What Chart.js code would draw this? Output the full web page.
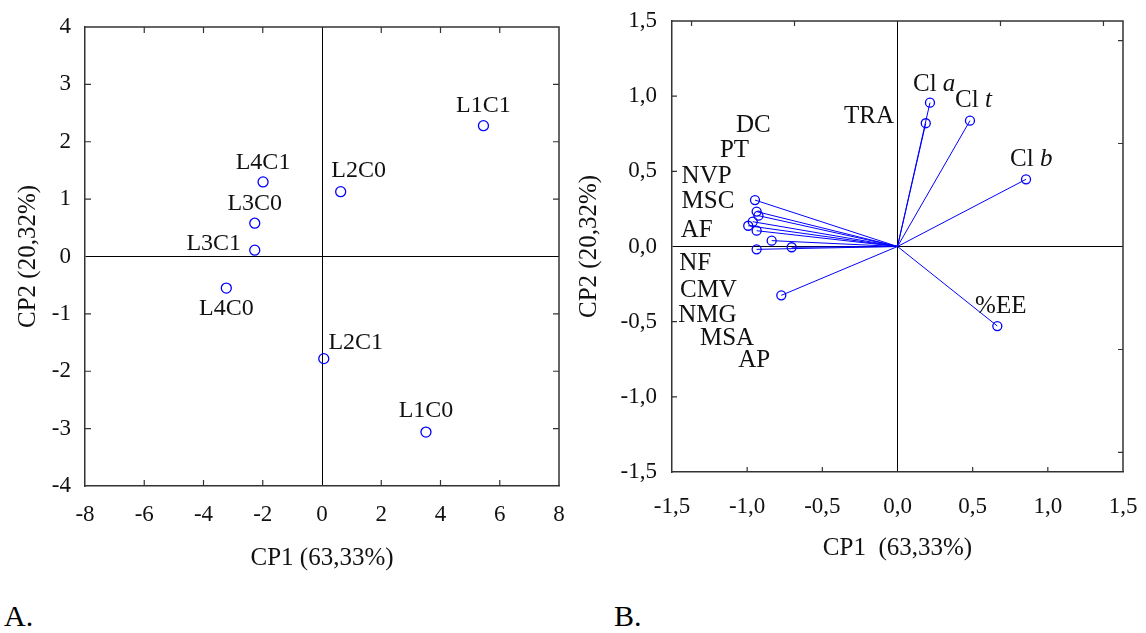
<!DOCTYPE html>
<html>
<head>
<meta charset="utf-8">
<script src="https://cdn.jsdelivr.net/npm/chart.js@4.4.1/dist/chart.umd.min.js"></script>
<style>
  body { margin: 0; background: #fff; width: 1146px; height: 633px; overflow: hidden; position: relative; font-family: 'Liberation Serif', serif; }
  #boxA { position: absolute; left: 0; top: 0; }
  #boxB { position: absolute; left: 566px; top: 0; }
  .panel { position: absolute; top: 601px; font-size: 30px; line-height: 1; color: #000; }
</style>
</head>
<body>
<canvas id="boxA" width="580" height="580"></canvas>
<canvas id="boxB" width="580" height="580"></canvas>
<div class="panel" style="left:4px">A.</div>
<div class="panel" style="left:614px">B.</div>
<script>
// ---------- PANEL A: scores ----------
const a_names = ['L1C1', 'L2C0', 'L4C1', 'L3C0', 'L3C1', 'L4C0', 'L2C1', 'L1C0'];
const a_cp1 = [5.45, 0.63, -1.99, -2.27, -2.27, -3.23, 0.06, 3.51];
const a_cp2 = [2.28, 1.13, 1.30, 0.58, 0.11, -0.55, -1.78, -3.06];
const a_ticks_x = [-6, -4, -2, 2, 4, 6];
const a_ticks_y = [-3, -2, -1, 1, 2, 3];

// ---------- PANEL B: loadings ----------
const b_names = ['Cl a', 'TRA', 'Cl t', 'Cl b', '%EE', 'DC', 'PT', 'NVP', 'MSC', 'AF', 'NF', 'CMV', 'NMG', 'MSA', 'AP'];
const b_cp1 = [0.216, 0.188, 0.482, 0.855, 0.664, -0.948, -0.937, -0.925, -0.963, -0.993, -0.937, -0.773, -0.837, -0.937, -0.704];
const b_cp2 = [0.957, 0.820, 0.837, 0.447, -0.529, 0.309, 0.232, 0.205, 0.165, 0.138, 0.105, -0.325, 0.039, -0.019, -0.005];
const b_ticks = [-1, -0.5, 0.5, 1];
const b_ticks_frame = [-1.37, -0.685, 0.685, 1.37];

// label placement (layout only)
const a_label_offset = [[0, -20], [18, -21], [0, -19], [0, -20], [-41, -6], [0, 21], [32, -16], [0, -21]];
const b_label_pos = {
  'Cl a': [0.103, 1.075], 'TRA': [-0.356, 0.868], 'Cl t': [0.383, 0.970], 'Cl b': [0.749, 0.576],
  '%EE': [0.516, -0.401], 'DC': [-1.075, 0.808], 'PT': [-1.181, 0.642], 'NVP': [-1.436, 0.469],
  'MSC': [-1.436, 0.298], 'AF': [-1.442, 0.110], 'NF': [-1.452, -0.112], 'CMV': [-1.447, -0.294],
  'NMG': [-1.458, -0.456], 'MSA': [-1.314, -0.611], 'AP': [-1.059, -0.755]
};

const FONT = "'Liberation Serif', 'Times New Roman', serif";
const BLUE = '#0000ff';

Chart.defaults.font.family = FONT;
Chart.defaults.font.size = 23;
Chart.defaults.color = '#111';

// frame (top/right) + inward tick marks
const frameTicks = {
  id: 'frameTicks',
  afterDatasetsDraw(chart, args, opts) {
    const { ctx, chartArea: a, scales: { x, y } } = chart;
    const L = opts.len;
    ctx.save();
    ctx.strokeStyle = '#333';
    ctx.lineWidth = 1.5;
    ctx.beginPath();
    ctx.moveTo(a.left, a.top);
    ctx.lineTo(a.right, a.top);
    ctx.lineTo(a.right, a.bottom);
    ctx.stroke();
    ctx.lineWidth = 1.2;
    ctx.beginPath();
    opts.bottom.forEach(v => { const p = x.getPixelForValue(v); ctx.moveTo(p, a.bottom); ctx.lineTo(p, a.bottom - L); });
    opts.top.forEach(v => { const p = x.getPixelForValue(v); ctx.moveTo(p, a.top); ctx.lineTo(p, a.top + L); });
    opts.left.forEach(v => { const p = y.getPixelForValue(v); ctx.moveTo(a.left, p); ctx.lineTo(a.left + L, p); });
    opts.right.forEach(v => { const p = y.getPixelForValue(v); ctx.moveTo(a.right, p); ctx.lineTo(a.right - L, p); });
    ctx.stroke();
    ctx.restore();
  }
};

// text labels
const textLabels = {
  id: 'textLabels',
  afterDatasetsDraw(chart, args, opts) {
    const { ctx, scales: { x, y } } = chart;
    ctx.save();
    ctx.fillStyle = '#111';
    ctx.textBaseline = 'middle';
    opts.items.forEach(it => {
      const px = x.getPixelForValue(it.x) + (it.dx || 0);
      const py = y.getPixelForValue(it.y) + (it.dy || 0);
      ctx.font = opts.size + 'px ' + FONT;
      if (it.italic) {
        ctx.textAlign = 'left';
        ctx.fillText(it.text, px, py);
        const w = ctx.measureText(it.text).width;
        ctx.font = 'italic ' + opts.size + 'px ' + FONT;
        ctx.fillText(it.italic, px + w, py);
      } else {
        ctx.textAlign = it.align || 'center';
        ctx.fillText(it.text, px, py);
      }
    });
    ctx.restore();
  }
};

function zeroLine(c) {
  return Math.abs(c.tick.value) < 1e-9 ? '#000' : 'rgba(0,0,0,0)';
}

// gap between axis and tick labels goes into an invisible tick mark,
// so it does not inflate the layout padding
function axis(min, max, step, fmt, title, gap, fitSize, horizontal) {
  return {
    type: 'linear',
    min: min,
    max: max,
    ticks: { stepSize: step, padding: 2, color: '#111', font: { family: FONT, size: 23, lineHeight: 1.2 }, callback: fmt },
    grid: { color: zeroLine, drawTicks: true, tickLength: gap - 2, tickColor: 'rgba(0,0,0,0)', lineWidth: 1 },
    border: { display: true, color: '#333', width: 1.5 },
    title: { display: true, text: title, color: '#111', font: { family: FONT, size: 25, lineHeight: 1.2 }, padding: { top: 4, bottom: 4 } },
    afterFit: s => { if (horizontal) s.height = fitSize; else s.width = fitSize; }
  };
}

const fmtInt = v => String(v);
const fmtDec = v => v.toFixed(1).replace('.', ',');

// ---------- CHART A ----------
new Chart(document.getElementById('boxA').getContext('2d'), {
  type: 'scatter',
  data: {
    datasets: [{
      data: a_cp1.map((v, i) => ({ x: v, y: a_cp2[i] })),
      pointRadius: 5,
      pointBorderWidth: 1.3,
      pointBorderColor: BLUE,
      pointBackgroundColor: 'rgba(255,255,255,0)'
    }]
  },
  options: {
    responsive: false,
    animation: false,
    layout: { padding: { left: 9, top: 27, right: 21, bottom: 3 } },
    scales: {
      x: axis(-8, 8, 2, fmtInt, 'CP1 (63,33%)', 15, 91, true),
      y: axis(-4, 4, 1, fmtInt, 'CP2 (20,32%)', 14, 76, false)
    },
    plugins: {
      legend: { display: false },
      tooltip: { enabled: false },
      frameTicks: { len: 6, bottom: a_ticks_x, top: a_ticks_x, left: a_ticks_y, right: a_ticks_y },
      textLabels: {
        size: 24,
        items: a_names.map((n, i) => ({ text: n, x: a_cp1[i], y: a_cp2[i], dx: a_label_offset[i][0], dy: a_label_offset[i][1] }))
      }
    }
  },
  plugins: [frameTicks, textLabels]
});

// ---------- CHART B ----------
const b_datasets = b_names.map((n, i) => ({
  label: n,
  data: [{ x: 0, y: 0 }, { x: b_cp1[i], y: b_cp2[i] }],
  showLine: true,
  borderColor: BLUE,
  borderWidth: 1,
  pointRadius: c => (c.dataIndex === 0 ? 0 : 4.5),
  pointBorderWidth: 1.3,
  pointBorderColor: BLUE,
  pointBackgroundColor: 'rgba(255,255,255,0)'
}));

const b_items = b_names.map(n => {
  const p = b_label_pos[n];
  if (n.startsWith('Cl ')) return { text: 'Cl ', italic: n.slice(3), x: p[0], y: p[1] };
  return { text: n, x: p[0], y: p[1], align: 'left' };
});

new Chart(document.getElementById('boxB').getContext('2d'), {
  type: 'scatter',
  data: { datasets: b_datasets },
  options: {
    responsive: false,
    animation: false,
    layout: { padding: { left: 4, top: 21, right: 23, bottom: 13 } },
    scales: {
      x: axis(-1.5, 1.5, 0.5, fmtDec, 'CP1  (63,33%)', 21, 95, true),
      y: axis(-1.5, 1.5, 0.5, fmtDec, 'CP2 (20,32%)', 15, 102, false)
    },
    plugins: {
      legend: { display: false },
      tooltip: { enabled: false },
      frameTicks: { len: 5, bottom: b_ticks, top: b_ticks_frame, left: b_ticks, right: b_ticks_frame },
      textLabels: { size: 25, items: b_items }
    }
  },
  plugins: [frameTicks, textLabels]
});
</script>
</body>
</html>
